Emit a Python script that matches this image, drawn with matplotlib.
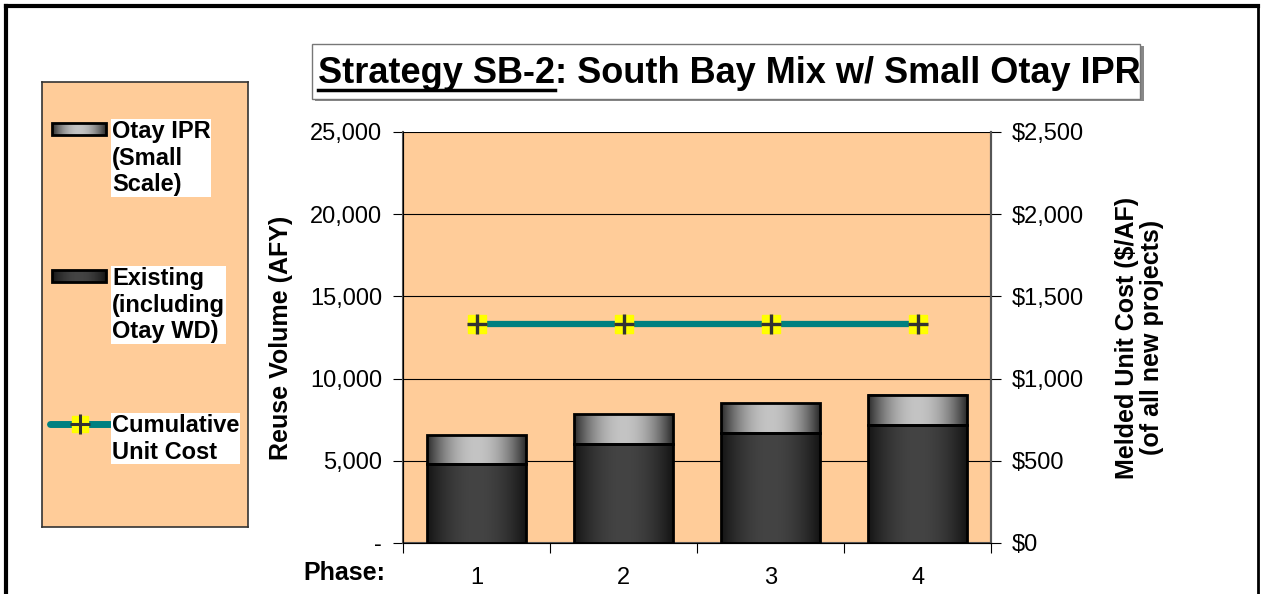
import numpy as np
import matplotlib
matplotlib.use('Agg')
import matplotlib.pyplot as plt
from matplotlib.patches import Rectangle
from matplotlib.ticker import FuncFormatter

plt.rcParams['font.family'] = ['Liberation Sans', 'DejaVu Sans']

# data
phases = ['1', '2', '3', '4']
existing = [4790, 6010, 6720, 7160]      # Existing (including Otay WD), AFY
otay_ipr = [1760, 1820, 1800, 1830]      # Otay IPR (Small Scale), AFY
unit_cost = [1330, 1330, 1330, 1330]     # Cumulative unit cost, $/AF

peach = '#FFCC99'
teal = '#008080'

fig = plt.figure(figsize=(12.63, 5.94), dpi=100)

# outer frame (top, left, right only)
fig.add_artist(plt.Line2D([0.005, 0.996], [0.990, 0.990], color='black', lw=3))
fig.add_artist(plt.Line2D([0.005, 0.005], [0.0, 0.990], color='black', lw=3))
fig.add_artist(plt.Line2D([0.996, 0.996], [0.0, 0.990], color='black', lw=2))


def grad(edge, mid, n=64):
    # horizontal cylinder-like shading
    t = np.linspace(-1, 1, n)
    w = 1 - t ** 2
    e = np.array(matplotlib.colors.to_rgb(edge))
    m = np.array(matplotlib.colors.to_rgb(mid))
    return (e[None, :] * (1 - w[:, None]) + m[None, :] * w[:, None])[None, :, :]


dark_img = grad('#151515', '#444444')
light_img = grad('#2e2e2e', '#c4c4c4')

ax = fig.add_axes([0.3191, 0.0859, 0.4656, 0.6919])
ax.set_facecolor(peach)
x = np.arange(len(phases))
width = 0.67

bottoms = np.zeros(len(phases))
for vals, img in [(existing, dark_img), (otay_ipr, light_img)]:
    for i, v in enumerate(vals):
        x0, x1 = x[i] - width / 2, x[i] + width / 2
        y0, y1 = bottoms[i], bottoms[i] + v
        ax.imshow(img, extent=[x0, x1, y0, y1], aspect='auto', zorder=3,
                  interpolation='bilinear')
        ax.add_patch(Rectangle((x0, y0), width, v, fill=False,
                               edgecolor='black', lw=2, zorder=4))
    bottoms += np.array(vals)

ax.set_xlim(-0.5, len(phases) - 0.5)
ax.set_ylim(0, 25000)
ax.yaxis.grid(True, color='black', lw=0.8, zorder=1)
ax.set_axisbelow(True)
ax.set_yticks(np.arange(0, 25001, 5000))
ax.yaxis.set_major_formatter(FuncFormatter(lambda v, p: '-' if v == 0 else f'{v:,.0f}'))
ax.set_xticks(np.arange(-0.5, len(phases), 1.0))
ax.set_xticklabels([])
ax.set_xticks(x, minor=True)
ax.set_xticklabels(phases, minor=True)
ax.tick_params(axis='x', which='minor', length=0, pad=17, labelsize=17)
ax.tick_params(axis='x', which='major', length=7, direction='out', color='black')
ax.tick_params(axis='y', length=7, direction='out', labelsize=17, pad=8)
ax.spines['top'].set_visible(False)
for s in ['left', 'right', 'bottom']:
    ax.spines[s].set_color('#555555')
    ax.spines[s].set_linewidth(1.5)
ax.set_ylabel('Reuse Volume (AFY)', fontsize=18, fontweight='bold', labelpad=12)

ax2 = ax.twinx()
ax2.set_ylim(0, 2500)
ax2.set_yticks(np.arange(0, 2501, 500))
ax2.yaxis.set_major_formatter(FuncFormatter(lambda v, p: f'${v:,.0f}'))
ax2.tick_params(axis='y', length=7, direction='out', labelsize=17, pad=8)
ax2.spines['top'].set_visible(False)
ax2.spines['right'].set_color('#555555')
ax2.spines['right'].set_linewidth(1.5)
ax2.plot(x, unit_cost, color=teal, lw=4.5, zorder=5, solid_capstyle='butt')
ax2.plot(x, unit_cost, ls='none', marker='s', ms=13, mfc='yellow', mec='yellow', zorder=6)
ax2.plot(x, unit_cost, ls='none', marker='+', ms=15, mew=2.4, color='#333333', zorder=7)
ax2.set_ylabel('Melded Unit Cost ($/AF)\n(of all new projects)', fontsize=18,
               fontweight='bold', labelpad=22, linespacing=1.05)

fig.text(0.305, 0.035, 'Phase:', fontsize=18, fontweight='bold', ha='right', va='center')

# title box
fig.add_artist(Rectangle((0.2495, 0.830), 0.656, 0.093, transform=fig.transFigure,
                         facecolor='#888888', edgecolor='none'))
fig.add_artist(Rectangle((0.2470, 0.833), 0.656, 0.093, transform=fig.transFigure,
                         facecolor='white', edgecolor='#777777', lw=1))
t1 = fig.text(0.252, 0.876, 'Strategy SB-2', fontsize=26, fontweight='bold',
              ha='left', va='center')
fig.canvas.draw()
r = fig.canvas.get_renderer()
bb = t1.get_window_extent(r).transformed(fig.transFigure.inverted())
fig.text(bb.x1, 0.876, ': South Bay Mix w/ Small Otay IPR', fontsize=26,
         fontweight='bold', ha='left', va='center')
fig.add_artist(plt.Line2D([bb.x0, bb.x1], [bb.y0 + 0.002, bb.y0 + 0.002],
                          transform=fig.transFigure, color='black', lw=2.5))

# legend panel
lg = fig.add_axes([0.0333, 0.113, 0.1630, 0.749])
lg.set_facecolor(peach)
for s in lg.spines.values():
    s.set_color('#333333')
    s.set_linewidth(1.2)
for img, y in [(light_img, 47), (dark_img, 194)]:
    lg.imshow(img, extent=[10, 64, y + 6, y - 6], aspect='auto', interpolation='bilinear')
    lg.add_patch(Rectangle((10, y - 6), 54, 12, fill=False, edgecolor='black', lw=2))
lg.plot([8, 68], [342, 342], color=teal, lw=5, solid_capstyle='round')
lg.plot([38], [342], marker='s', ms=12, mfc='yellow', mec='yellow')
lg.plot([38], [342], marker='+', ms=14, mew=2.2, color='#333333')
lg.set_xlim(0, 206)
lg.set_ylim(445, 0)
lg.set_xticks([])
lg.set_yticks([])
lbl = dict(fontsize=17, fontweight='bold', ha='left', va='top', linespacing=1.2,
           bbox=dict(facecolor='white', edgecolor='none', pad=0.5))
lg.text(70, 38, 'Otay IPR\n(Small\nScale)', **lbl)
lg.text(70, 185, 'Existing\n(including\nOtay WD)', **lbl)
lg.text(70, 332, 'Cumulative\nUnit Cost', **lbl)

fig.savefig('out.png', dpi=100)
